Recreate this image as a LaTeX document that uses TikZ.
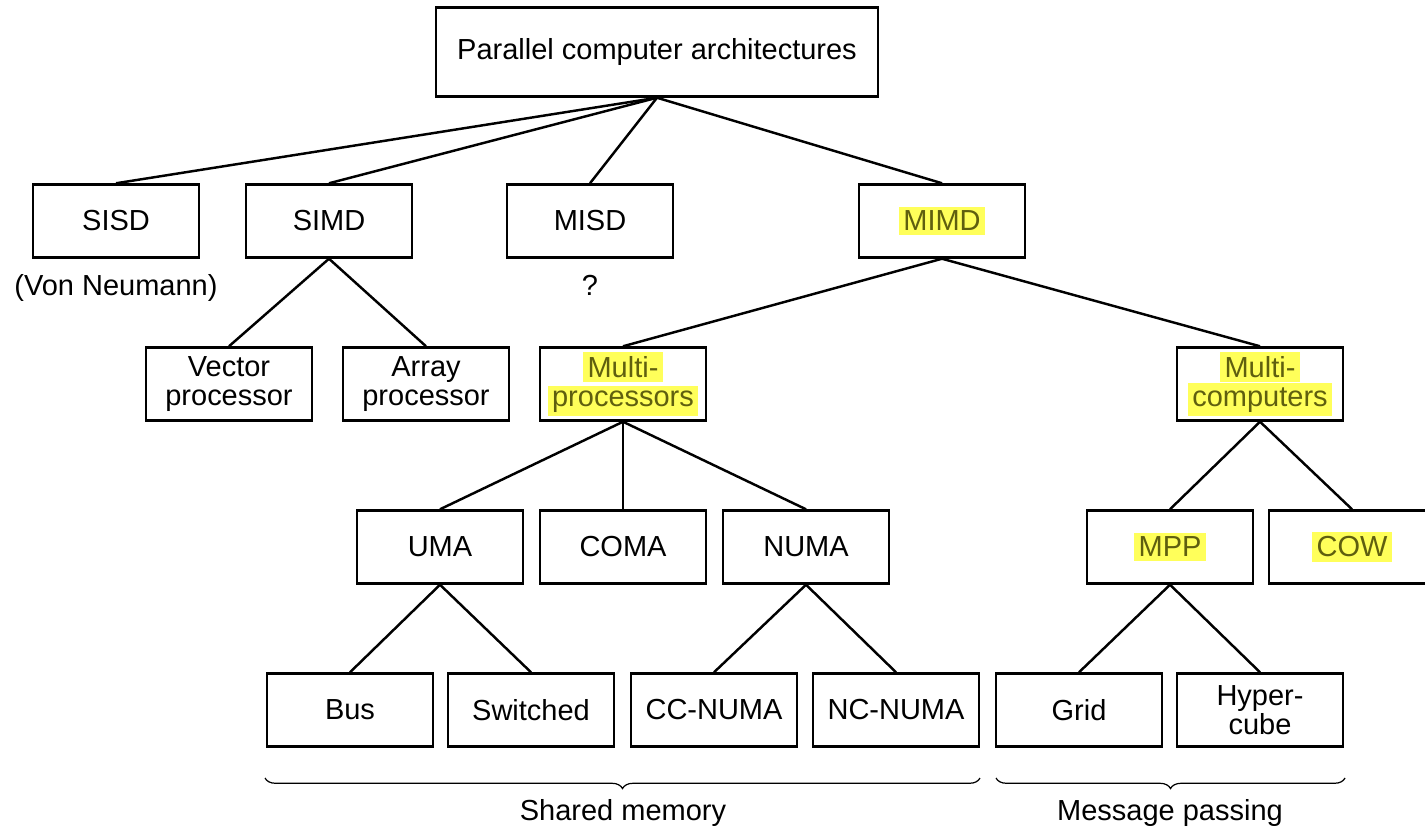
\documentclass[tikz,border=0pt]{standalone}
\usepackage{fontspec}
\setmainfont{Liberation Sans}
\usetikzlibrary{decorations.pathreplacing}
\usetikzlibrary{positioning}
\definecolor{hlyellow}{RGB}{255,255,90}
\definecolor{hltext}{RGB}{95,95,15}
\newcommand{\hl}[1]{{\setlength{\fboxsep}{2.5pt}\colorbox{hlyellow}{\color{hltext}#1}}}

\begin{document}
\begin{tikzpicture}[x=0.02cm,y=-0.02cm,
  box/.style={draw,line width=1.4pt,minimum width=3.32cm,minimum height=1.46cm,align=center,inner sep=0pt,font=\fontsize{16.5}{16.5}\selectfont},
  lbl/.style={font=\fontsize{16.5}{16.5}\selectfont},
  link/.style={line width=1.4pt},
  mybrace/.style={decorate,decoration={brace,mirror,amplitude=6pt},line width=0.7pt}]
\useasboundingbox (0,0) rectangle (1425,829);

%root
\node[box,minimum width=8.84cm,minimum height=1.78cm] (par) at (657,52) {Parallel computer architectures};

%Flynn classes
\node[box] (sisd) at (116,221) {SISD};
\node[box] (simd) at (329,221) {SIMD};
\node[box] (misd) at (590,221) {MISD};
\node[box] (mimd) at (942,221) {\hl{MIMD}};
\node[lbl,below=0.2cm of sisd] (vn) {(Von Neumann)};
\node[lbl,below=0.2cm of misd] (qm) {?};
\foreach\c in {sisd,simd,misd,mimd}{\draw[link] (par.south) -- (\c.north);}

%SIMD
\node[box] (vec) at (229,384) {Vector\\processor};
\node[box] (arr) at (426,384) {Array\\processor};
\foreach\c in {vec,arr}{\draw[link] (simd.south) -- (\c.north);}

%MIMD
\node[box] (mproc) at (623,384) {\hl{Multi-}\\\hl{processors}};
\node[box] (mcomp) at (1260,384) {\hl{Multi-}\\\hl{computers}};
\foreach\c in {mproc,mcomp}{\draw[link] (mimd.south) -- (\c.north);}

%multiprocessors
\node[box] (uma) at (440,547) {UMA};
\node[box] (coma) at (623,547) {COMA};
\node[box] (numa) at (806,547) {NUMA};
\foreach\c in {uma,coma,numa}{\draw[link] (mproc.south) -- (\c.north);}

%multicomputers
\node[box] (mpp) at (1170,547) {\hl{MPP}};
\node[box] (cow) at (1352,547) {\hl{COW}};
\foreach\c in {mpp,cow}{\draw[link] (mcomp.south) -- (\c.north);}

%leaves
\node[box] (bus) at (350,710) {Bus};
\node[box] (sw) at (531,710) {Switched};
\node[box] (ccn) at (714,710) {CC-NUMA};
\node[box] (ncn) at (896,710) {NC-NUMA};
\node[box] (grid) at (1079,710) {Grid};
\node[box] (hyp) at (1260,710) {Hyper-\\cube};
\foreach\c in {bus,sw}{\draw[link] (uma.south) -- (\c.north);}
\foreach\c in {ccn,ncn}{\draw[link] (numa.south) -- (\c.north);}
\foreach\c in {grid,hyp}{\draw[link] (mpp.south) -- (\c.north);}

%braces
\coordinate (sml) at (265,778);
\coordinate (smr) at (980,778);
\coordinate (mpl) at (996,778);
\coordinate (mpr) at (1345,778);
\draw[mybrace] (sml) -- (smr);
\draw[mybrace] (mpl) -- (mpr);
\node[lbl] (shm) at (623,813) {Shared memory};
\node[lbl] (msg) at (1170,813) {Message passing};
\end{tikzpicture}
\end{document}
